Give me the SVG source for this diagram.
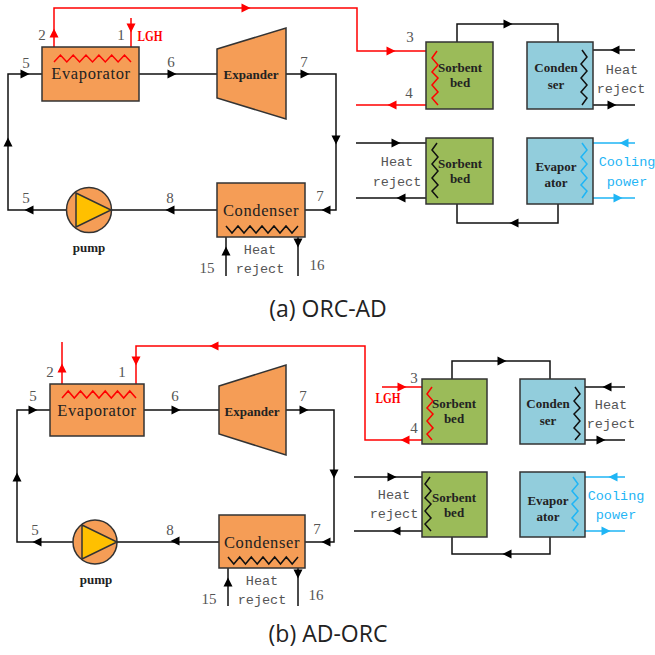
<svg xmlns="http://www.w3.org/2000/svg" width="655" height="655" viewBox="0 0 655 655">
<style>
text{font-family:"Liberation Serif","DejaVu Serif",serif;text-anchor:middle}
.box{stroke:#333;stroke-width:1.5}
.o{fill:#F59D56}.g{fill:#9BBB59}.b{fill:#92CDDC}
.l{fill:none;stroke:#111;stroke-width:1.5}
.r{fill:none;stroke:#F00;stroke-width:1.5}
.c{fill:none;stroke:#1FB5F5;stroke-width:1.5}
.ak{fill:#000}.ar{fill:#F00}.ac{fill:#1FB5F5}
.n{font-size:15px;fill:#555}
.h{font-family:"Liberation Mono","DejaVu Sans Mono",monospace;font-size:13.5px;fill:#555}
.nm{font-size:16.5px;fill:#222;letter-spacing:.6px}
.s{font-size:13px;fill:#222;font-weight:bold}
.cp{font-family:"Liberation Mono","DejaVu Sans Mono",monospace;font-size:13.5px;fill:#1FB5F5}
.lg{font-size:14px;fill:#F00;font-weight:bold}
.cap{font-family:"Open Sans","Liberation Sans",sans-serif;font-size:23px;fill:#222}
</style>
<defs><path id="ah" d="M-4.5,-4.5L4.5,0L-4.5,4.5Z"/></defs>

<g id="connectors-a">
<path class="l" d="M42,74H8V210H67M111,210H217M139,74H217M286,74H336V210H305"/>
<path class="l" d="M226,276V226M298,226V276"/>
<path class="l" d="M457,42V24H558V42M457,204V223H558V204"/>
<path class="l" d="M635,50H582M582,105H635M356,143H437M437,198H356"/>
<path class="r" d="M54,62V8H357V51H437M437,105H356M131,18V62"/>
<path class="c" d="M635,143H582M582,198H635"/>
<g class="ak">
<use href="#ah" transform="translate(25,74)"/><use href="#ah" transform="translate(172,74)"/><use href="#ah" transform="translate(305,74)"/>
<use href="#ah" transform="translate(336,140) rotate(90)"/><use href="#ah" transform="translate(326,210) rotate(180)"/><use href="#ah" transform="translate(170,210) rotate(180)"/>
<use href="#ah" transform="translate(29,210) rotate(180)"/><use href="#ah" transform="translate(8,142) rotate(-90)"/>
<use href="#ah" transform="translate(226,251) rotate(-90)"/><use href="#ah" transform="translate(298,243) rotate(90)"/>
<use href="#ah" transform="translate(508,24)"/><use href="#ah" transform="translate(514,223) rotate(180)"/>
<use href="#ah" transform="translate(615,50) rotate(180)"/><use href="#ah" transform="translate(612,105)"/>
<use href="#ah" transform="translate(396,143)"/><use href="#ah" transform="translate(401,198) rotate(180)"/>
</g>
<g class="ar">
<use href="#ah" transform="translate(54,33) rotate(-90)"/><use href="#ah" transform="translate(131,28) rotate(90)"/>
<use href="#ah" transform="translate(246,8)"/><use href="#ah" transform="translate(391,51)"/><use href="#ah" transform="translate(392,105) rotate(180)"/>
</g>
<g class="ac">
<use href="#ah" transform="translate(624,143) rotate(180)"/><use href="#ah" transform="translate(618,198)"/>
</g>
</g>

<g id="evaporator-a"><rect class="box o" x="42" y="47" width="97" height="54"/>
<polyline class="r" points="54,62 60.4,55 66.8,62 73.2,55 79.6,62 86,55 92.5,62 98.9,55 105.3,62 111.7,55 118.1,62 124.5,55 131,62"/>
<text class="nm" x="91" y="79">Evaporator</text></g>
<g id="expander-a"><polygon class="box o" points="217,49 286,28 286,119 217,98"/><text class="s" x="251" y="79">Expander</text></g>
<g id="condenser-a"><rect class="box o" x="217" y="183" width="88" height="54"/>
<polyline class="l" points="226,226 232,233 238,226 244,233 250,226 256,233 262,226 268,233 274,226 280,233 286,226 292,233 298,226"/>
<text class="nm" x="261" y="216">Condenser</text></g>
<g id="pump-a"><circle class="box o" cx="89" cy="210" r="22.5"/><polygon class="box" fill="#FFC000" points="76,193 111,210 76,227"/><text class="s" x="89" y="252">pump</text></g>
<g id="sorbent-a1"><rect class="box g" x="426" y="42" width="67" height="67"/>
<polyline class="r" points="437,51 432,58 438,65 432,72 438,78 432,85 438,92 432,98 438,105"/>
<text class="s" x="460" y="72">Sorbent</text><text class="s" x="460" y="87">bed</text></g>
<g id="condenser-a2"><rect class="box b" x="527" y="42" width="66" height="67"/>
<polyline class="l" points="582,50 587,57 581,64 587,71 581,78 587,85 581,92 587,98 582,105"/>
<text class="s" x="556" y="72">Conden</text><text class="s" x="556" y="89">ser</text></g>
<g id="sorbent-a2"><rect class="box g" x="426" y="138" width="67" height="66"/>
<polyline class="l" points="437,143 432,150 438,157 432,164 438,171 432,178 438,185 432,191 438,198"/>
<text class="s" x="460" y="168">Sorbent</text><text class="s" x="460" y="183">bed</text></g>
<g id="evaporator-a2"><rect class="box b" x="527" y="138" width="66" height="66"/>
<polyline class="c" points="582,143 587,150 581,157 587,164 581,171 587,178 581,185 587,191 582,198"/>
<text class="s" x="556" y="171">Evapor</text><text class="s" x="556" y="187">ator</text></g>

<g id="labels-a">
<text class="n" x="42" y="40">2</text><text class="n" x="121" y="40">1</text><text class="lg" x="150" y="41" textLength="25" lengthAdjust="spacingAndGlyphs">LGH</text>
<text class="n" x="26" y="68">5</text><text class="n" x="171" y="67">6</text><text class="n" x="304" y="67">7</text>
<text class="n" x="26" y="203">5</text><text class="n" x="170" y="203">8</text><text class="n" x="320" y="201">7</text>
<text class="n" x="207" y="273">15</text><text class="n" x="317" y="270">16</text>
<text class="h" x="260" y="254">Heat</text><text class="h" x="260" y="273">reject</text>
<text class="n" x="410" y="42">3</text><text class="n" x="409" y="98">4</text>
<text class="h" x="622" y="74">Heat</text><text class="h" x="621" y="93">reject</text>
<text class="h" x="397" y="166">Heat</text><text class="h" x="397" y="186">reject</text>
<text class="cp" x="627" y="166">Cooling</text><text class="cp" x="627" y="186">power</text>
<text class="cap" x="328" y="317">(a) ORC-AD</text>
</g>

<g id="connectors-b">
<path class="l" d="M50,410H17V542H73M117,542H219M144,410H219M286,410H334V542H305"/>
<path class="l" d="M228,606V557M298,557V606"/>
<path class="l" d="M452,379V361H550V379M452,537V554H550V537"/>
<path class="l" d="M625,387H575M575,440H625M354,477H430M430,531H354"/>
<path class="r" d="M62,398V342M136,398V346H365V440H432M382,387H432"/>
<path class="c" d="M625,477H573M573,531H625"/>
<g class="ak">
<use href="#ah" transform="translate(33,410)"/><use href="#ah" transform="translate(176,410)"/><use href="#ah" transform="translate(304,410)"/>
<use href="#ah" transform="translate(334,474) rotate(90)"/><use href="#ah" transform="translate(326,542) rotate(180)"/><use href="#ah" transform="translate(175,541) rotate(180)"/>
<use href="#ah" transform="translate(37,542) rotate(180)"/><use href="#ah" transform="translate(17,477) rotate(-90)"/>
<use href="#ah" transform="translate(228,582) rotate(-90)"/><use href="#ah" transform="translate(298,574) rotate(90)"/>
<use href="#ah" transform="translate(502,361)"/><use href="#ah" transform="translate(507,554) rotate(180)"/>
<use href="#ah" transform="translate(607,387) rotate(180)"/><use href="#ah" transform="translate(601,440)"/>
<use href="#ah" transform="translate(392,477)"/><use href="#ah" transform="translate(396,531) rotate(180)"/>
</g>
<g class="ar">
<use href="#ah" transform="translate(62,368) rotate(-90)"/><use href="#ah" transform="translate(136,361) rotate(90)"/>
<use href="#ah" transform="translate(214,346) rotate(180)"/><use href="#ah" transform="translate(402,387)"/><use href="#ah" transform="translate(405,440) rotate(180)"/>
</g>
<g class="ac">
<use href="#ah" transform="translate(613,477) rotate(180)"/><use href="#ah" transform="translate(606,531)"/>
</g>
</g>

<g id="evaporator-b"><rect class="box o" x="50" y="384" width="94" height="52"/>
<polyline class="r" points="62,398 68.2,391 74.3,398 80.5,391 86.7,398 92.8,391 99,398 105.2,391 111.3,398 117.5,391 123.7,398 129.8,391 136,398"/>
<text class="nm" x="97" y="416">Evaporator</text></g>
<g id="expander-b"><polygon class="box o" points="219,386 286,365 286,455 219,434"/><text class="s" x="252" y="416">Expander</text></g>
<g id="condenser-b"><rect class="box o" x="219" y="515" width="86" height="53"/>
<polyline class="l" points="228,557 233.8,564 239.7,557 245.5,564 251.3,557 257.2,564 263,557 268.8,564 274.7,557 280.5,564 286.3,557 292.2,564 298,557"/>
<text class="nm" x="262" y="548">Condenser</text></g>
<g id="pump-b"><circle class="box o" cx="95" cy="542" r="22"/><polygon class="box" fill="#FFC000" points="82,525 117,542 82,559"/><text class="s" x="96" y="584">pump</text></g>
<g id="sorbent-b1"><rect class="box g" x="422" y="379" width="65" height="65"/>
<polyline class="r" points="432,387 427,394 433,401 427,408 433,414 427,421 433,428 427,434 432,440"/>
<text class="s" x="454" y="408">Sorbent</text><text class="s" x="454" y="423">bed</text></g>
<g id="condenser-b2"><rect class="box b" x="520" y="379" width="65" height="65"/>
<polyline class="l" points="575,387 580,394 574,401 580,408 574,414 580,421 574,428 580,434 575,440"/>
<text class="s" x="548" y="408">Conden</text><text class="s" x="548" y="425">ser</text></g>
<g id="sorbent-b2"><rect class="box g" x="422" y="472" width="65" height="65"/>
<polyline class="l" points="430,477 425,484 431,491 425,498 431,504 425,511 431,518 425,524 431,531"/>
<text class="s" x="454" y="502">Sorbent</text><text class="s" x="454" y="517">bed</text></g>
<g id="evaporator-b2"><rect class="box b" x="520" y="472" width="65" height="65"/>
<polyline class="c" points="573,477 578,484 572,491 578,498 572,504 578,511 572,518 578,524 573,531"/>
<text class="s" x="548" y="505">Evapor</text><text class="s" x="548" y="521">ator</text></g>

<g id="labels-b">
<text class="n" x="50" y="377">2</text><text class="n" x="122" y="377">1</text>
<text class="n" x="33" y="401">5</text><text class="n" x="175" y="401">6</text><text class="n" x="303" y="401">7</text>
<text class="n" x="35" y="535">5</text><text class="n" x="170" y="535">8</text><text class="n" x="317" y="534">7</text>
<text class="n" x="209" y="604">15</text><text class="n" x="316" y="600">16</text>
<text class="h" x="262" y="585">Heat</text><text class="h" x="262" y="604">reject</text>
<text class="n" x="414" y="383">3</text><text class="n" x="414" y="433">4</text><text class="lg" x="388" y="403" textLength="25" lengthAdjust="spacingAndGlyphs">LGH</text>
<text class="h" x="611" y="409">Heat</text><text class="h" x="611" y="428">reject</text>
<text class="h" x="394" y="499">Heat</text><text class="h" x="394" y="518">reject</text>
<text class="cp" x="616" y="500">Cooling</text><text class="cp" x="616" y="519">power</text>
<text class="cap" x="328" y="642">(b) AD-ORC</text>
</g>
</svg>
